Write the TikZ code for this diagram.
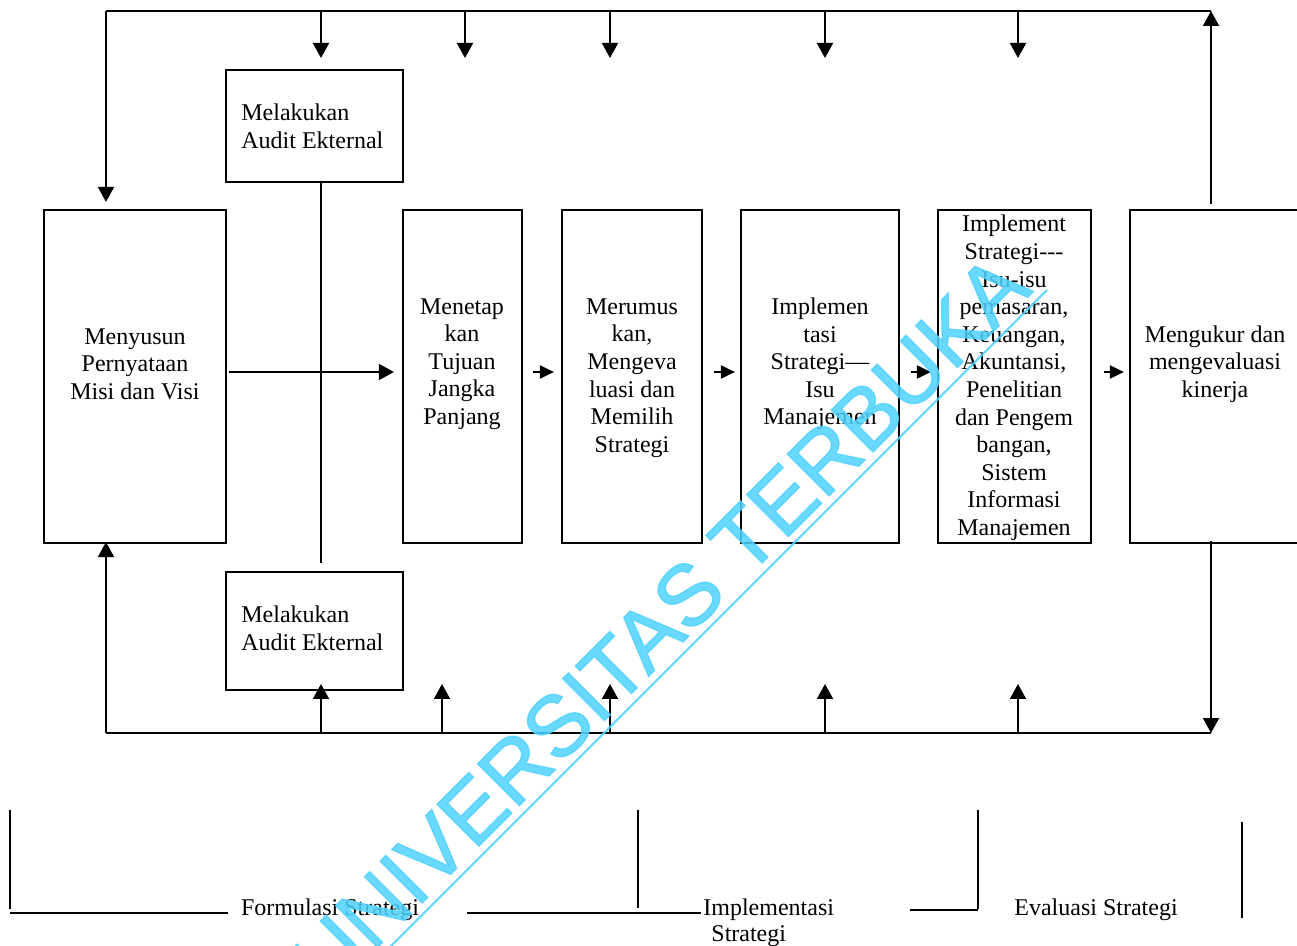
\documentclass[tikz,border=0pt]{standalone}
\usepackage{fontspec}
\setmainfont{Liberation Serif}
\newfontfamily\wmfont[FakeBold=1.6]{Liberation Sans}
\usetikzlibrary{arrows.meta}
\definecolor{wmcol}{RGB}{80,210,255}
\begin{document}
\begin{tikzpicture}[x=0.5pt,y=-0.5pt,
  line/.style={line width=1pt},
  arr/.style={line width=1pt,-{Triangle[length=7.5pt,width=8pt]}},
  sarr/.style={line width=1pt,-{Triangle[length=7pt,width=6.5pt]}},
  box/.style={draw,line width=1.1pt,inner sep=0pt},
  lbl/.style={align=center,inner sep=0pt,font=\fontsize{12}{13.8}\selectfont},
  lbll/.style={align=left,inner sep=0pt,font=\fontsize{12}{13.8}\selectfont},
  wm/.style={inner sep=0pt,text=wmcol,text opacity=0.85,
    font=\wmfont\fontsize{43}{50}\selectfont},
  wmline/.style={draw=wmcol,opacity=0.85,line width=1.1pt}]
\useasboundingbox (0,0) rectangle (1297,946);

% ---- process boxes
\node[box,minimum width=91pt,minimum height=166.5pt] (mission) at (135,376.5) {};
\node[box,minimum width=88.5pt,minimum height=56pt] (auditT) at (314.5,126) {};
\node[box,minimum width=88.5pt,minimum height=59pt] (auditB) at (314.5,631) {};
\node[box,minimum width=59.5pt,minimum height=166.5pt] (tujuan) at (462.5,376.5) {};
\node[box,minimum width=70pt,minimum height=166.5pt] (rumus) at (632,376.5) {};
\node[box,minimum width=79pt,minimum height=166.5pt] (impl) at (820,376.5) {};
\node[box,minimum width=76.5pt,minimum height=166.5pt] (implS) at (1014.5,376.5) {};
\node[box,minimum width=85pt,minimum height=166.5pt] (ukur) at (1215,376.5) {};

% ---- box texts
\node[lbl] (tmission) at (135,364) {Menyusun\\Pernyataan\\Misi dan Visi};
\node[lbll,anchor=west] (tauditT) at (241,126) {Melakukan\\Audit Ekternal};
\node[lbll,anchor=west] (tauditB) at (241,628.5) {Melakukan\\Audit Ekternal};
\node[lbl] (ttujuan) at (462,364) {Menetap\\kan\\Tujuan\\Jangka\\Panjang};
\node[lbl] (trumus) at (632,378) {Merumus\\kan,\\Mengeva\\luasi dan\\Memilih\\Strategi};
\node[lbl] (timpl) at (820,364) {Implemen\\tasi\\Strategi---\\Isu\\Manajemen};
\node[lbl] (timplS) at (1014,378) {Implement\\Strategi{-}{-}{-}\\Isu-isu\\pemasaran,\\Keuangan,\\Akuntansi,\\Penelitian\\dan Pengem\\bangan,\\Sistem\\Informasi\\Manajemen};
\node[lbl] (tukur) at (1215,364) {Mengukur dan\\mengevaluasi\\kinerja};

% ---- main flow
\draw[arr] ([xshift=1pt,yshift=2.25pt]mission.east) -- ([xshift=-4pt,yshift=2.25pt]tujuan.west);
\draw[sarr] ([xshift=5pt,yshift=2.25pt]tujuan.east) -- ([xshift=-3.5pt,yshift=2.25pt]rumus.west);
\draw[sarr] ([xshift=5.5pt,yshift=2.25pt]rumus.east) -- ([xshift=-2.5pt,yshift=2.25pt]impl.west);
\draw[sarr] ([xshift=5.5pt,yshift=2.25pt]impl.east) -- ([xshift=-3pt,yshift=2.25pt]implS.west);
\draw[sarr] ([xshift=6pt,yshift=2.25pt]implS.east) -- ([xshift=-2.5pt,yshift=2.25pt]ukur.west);

% ---- link between the two audit boxes
\draw[line] ([xshift=3.25pt]auditT.south) -- ([xshift=3.25pt,yshift=4pt]auditB.north);

% ---- feedback buses
\coordinate (tl) at (106,11);
\coordinate (tr) at (1211,11);
\coordinate (bl) at (106,733);
\coordinate (br) at (1211,733);
\draw[line] (tl) -- (tr);
\draw[line] (bl) -- (br);
\draw[arr] (tl) -- ([yshift=3.5pt]tl |- mission.north);
\draw[arr] (bl) -- ([yshift=1pt]bl |- mission.south);
\draw[arr] ([yshift=2.5pt]tr |- ukur.north) -- (tr);
\draw[arr] ([yshift=1.5pt]br |- ukur.south) -- (br);

\foreach \x [count=\i] in {321,465,610,825,1018}{
  \coordinate (d\i) at (\x,58);
  \draw[arr] (d\i |- tl) -- (d\i);
}
\foreach \x [count=\i] in {321,442,610,825,1018}{
  \coordinate (u\i) at (\x,684);
  \draw[arr] (u\i |- bl) -- (u\i);
}

% ---- phase brackets
\node[lbl,anchor=base] (pform) at (330,915) {Formulasi Strategi};
\node[lbl,anchor=base west] (pimpl) at (703,915) {Implementasi};
\node[lbl,anchor=base west] (pimpl2) at (711,941) {Strategi};
\node[lbl,anchor=base] (peval) at (1096,915) {Evaluasi Strategi};
\draw[line] (10,810) -- (10,909);
\draw[line] (10,913) -- (228,913);
\draw[line] (467,913) -- (701,913);
\draw[line] (638,810) -- (638,908);
\draw[line] (910,910) -- (978,910);
\draw[line] (978,810) -- (978,909);
\draw[line] (1242,822) -- (1242,918);

% ---- watermark
\draw[wmline] (380,957) -- (1047,290);
\node[wm,rotate=45,anchor=base east] (wmark) at (1034,291) {UNIVERSITAS TERBUKA};
\end{tikzpicture}
\end{document}
